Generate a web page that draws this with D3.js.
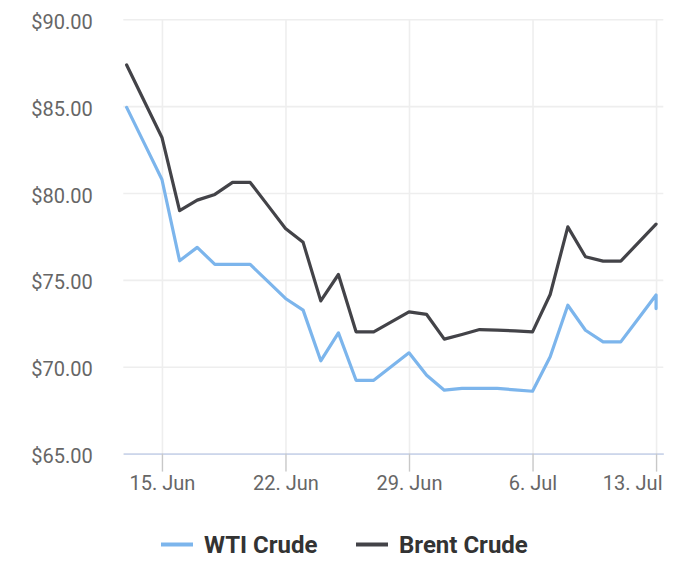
<!DOCTYPE html>
<html><head><meta charset="utf-8">
<script src="https://cdn.jsdelivr.net/npm/d3@7"></script>
<style>
body{margin:0;background:#fff}
svg{display:block;font-family:Roboto,"Noto Sans",sans-serif}
</style>
</head><body>
<svg id="c" width="700" height="571"></svg>
<script>
// ---- data ----
const dates = ["2022-06-13","2022-06-14","2022-06-15","2022-06-16","2022-06-17","2022-06-18","2022-06-19","2022-06-20",
  "2022-06-21","2022-06-22","2022-06-23","2022-06-24","2022-06-25","2022-06-26","2022-06-27","2022-06-28","2022-06-29",
  "2022-06-30","2022-07-01","2022-07-02","2022-07-03","2022-07-04","2022-07-05","2022-07-06",
  "2022-07-07","2022-07-08","2022-07-09","2022-07-10","2022-07-11","2022-07-12","2022-07-13"];
const brent = [87.37,85.28,83.20,78.98,79.59,79.92,80.61,80.61,
  79.29,77.96,77.16,73.79,75.31,72.01,72.01,72.58,73.16,
  73.01,71.59,71.86,72.14,72.11,72.06,72.01,
  74.16,78.05,76.33,76.08,76.08,77.14,78.21];
const wti = [84.93,82.86,80.78,76.10,76.87,75.89,75.89,75.89,
  74.91,73.93,73.26,70.34,71.95,69.22,69.22,70.01,70.80,
  69.51,68.65,68.75,68.75,68.75,68.67,68.59,
  70.57,73.54,72.10,71.43,71.43,72.78,74.13];
const wtiLastDate = "2022-07-13";
const wtiLastValue = 73.35;
const seriesNames = ["WTI Crude","Brent Crude"];
const seriesColors = ["#7cb5ec","#434348"];
const yTicks = [65,70,75,80,85,90];
const xTickDates = ["2022-06-15","2022-06-22","2022-06-29","2022-07-06","2022-07-13"];

(function(){
// ---- layout ----
const parse = d3.utcParse("%Y-%m-%d");
const DAY = 864e5;
const pLeft = 123.3, pRight = 663.3, pTop = 19.3, pBottom = 453.6;
const svg = d3.select("#c");

const d0 = parse(dates[0]), d1 = parse(dates[dates.length-1]);
const x = d3.scaleUtc()
  .domain([new Date(+d0 - 0.19*DAY), new Date(+d1 + 0.41*DAY)])
  .range([pLeft, pRight]);
const y = d3.scaleLinear().domain([65, 90]).range([pBottom, pTop]);

// grid
const gy = svg.append("g").attr("transform", `translate(${pLeft},0)`)
  .call(d3.axisLeft(y).tickValues(yTicks).tickSize(-(pRight-pLeft)).tickFormat(""));
gy.select(".domain").remove();
gy.selectAll("line").attr("stroke", "#eeeeee").attr("stroke-width", 1.6);

const gx = svg.append("g").attr("transform", `translate(0,${pTop})`)
  .call(d3.axisBottom(x).tickValues(xTickDates.map(parse)).tickSize(pBottom-pTop).tickFormat(""));
gx.select(".domain").remove();
gx.selectAll("line").attr("stroke", "#eeeeee").attr("stroke-width", 1.6);

// x axis
const fmt = d3.utcFormat("%-d. %b");
const ax = svg.append("g").attr("transform", `translate(0,${pBottom})`)
  .call(d3.axisBottom(x).tickValues(xTickDates.map(parse)).tickFormat(fmt).tickSize(18).tickSizeOuter(0));
ax.select(".domain").attr("stroke", "#ccd6eb").attr("stroke-width", 1.6);
ax.selectAll(".tick line").attr("stroke", "#c8c8c8").attr("stroke-width", 1.4);
ax.selectAll(".tick text").attr("font-size", 20).attr("fill", "#666666")
  .attr("font-family", "Roboto").attr("y", 36.5).attr("dy", 0);
const tickNodes = ax.selectAll(".tick").nodes();
d3.select(tickNodes[tickNodes.length-1]).select("text")
  .attr("text-anchor", "end").attr("x", 662 - x(parse(xTickDates[xTickDates.length-1])));

// y axis
const ay = svg.append("g").attr("transform", `translate(${pLeft},0)`)
  .call(d3.axisLeft(y).tickValues(yTicks).tickSize(0).tickPadding(30.6).tickFormat(d => "$" + d.toFixed(2)));
ay.select(".domain").remove();
ay.selectAll("text").attr("font-size", 20).attr("fill", "#666666")
  .attr("font-family", "Roboto").attr("dy", "0.45em");

// lines
const line = d3.line().x(d => x(d.date)).y(d => y(d.v));
const wtiData = dates.map((d,i) => ({date: parse(d), v: wti[i]}));
wtiData.push({date: parse(wtiLastDate), v: wtiLastValue});
const brentData = dates.map((d,i) => ({date: parse(d), v: brent[i]}));
[wtiData, brentData].forEach((data, i) => {
  svg.append("path").datum(data).attr("d", line)
    .attr("fill", "none").attr("stroke", seriesColors[i])
    .attr("stroke-width", 3.2).attr("stroke-linejoin", "round").attr("stroke-linecap", "round");
});

// legend
const legendX = [161, 356];
seriesNames.forEach((name, i) => {
  const g = svg.append("g").attr("transform", `translate(${legendX[i]},0)`);
  g.append("line").attr("x1", 0).attr("x2", 32).attr("y1", 544.5).attr("y2", 544.5)
    .attr("stroke", seriesColors[i]).attr("stroke-width", 4);
  g.append("text").attr("x", 43).attr("y", 552.5).text(name)
    .attr("font-size", 24).attr("font-weight", "bold").attr("fill", "#333333").attr("font-family", "Roboto");
});
})();
</script>
</body></html>
